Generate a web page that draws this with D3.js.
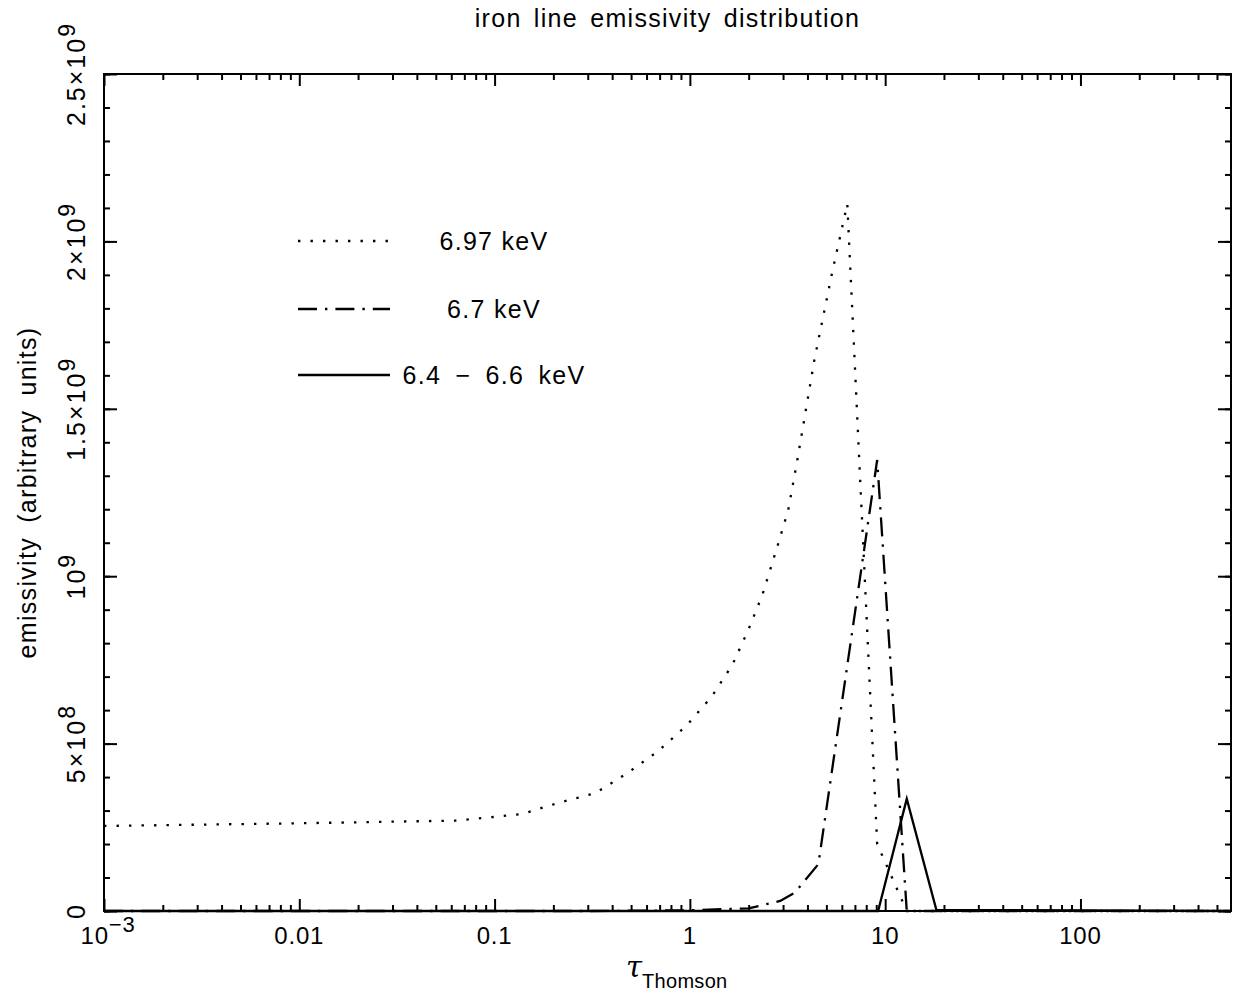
<!DOCTYPE html>
<html>
<head>
<meta charset="utf-8">
<script src="https://cdn.jsdelivr.net/npm/d3@7"></script>
<style>
  html, body { margin: 0; padding: 0; background: #fff; }
  #chart { width: 1235px; height: 995px; }
  text { font-family: "Liberation Sans", Arial, sans-serif; fill: #000; }
</style>
</head>
<body>
<div id="chart"></div>
<script>
// 6.97 keV (dotted)
const tauHe = [0.001, 0.01, 0.063, 0.1, 0.139, 0.212, 0.328, 0.479, 0.69, 0.97, 1.30, 1.65, 1.99, 2.35, 2.81, 3.19, 3.55, 4.34, 5.36, 6.4, 9.1, 12.9, 18.3, 590];
const emHe = [0.254, 0.262, 0.270, 0.281, 0.290, 0.323, 0.352, 0.412, 0.478, 0.556, 0.642, 0.735, 0.839, 0.944, 1.09, 1.198, 1.347, 1.646, 1.909, 2.112, 0.20, 0, 0, 0];
// 6.7 keV (dash-dot)
const tauH = [0.001, 0.3, 1.0, 2.0, 2.9, 3.45, 4.55, 9.1, 12.9, 590];
const emH = [0, 0, 0.002, 0.008, 0.03, 0.055, 0.14, 1.347, 0, 0];
// 6.4 - 6.6 keV (solid)
const tauN = [0.001, 9.2, 12.9, 18.3, 590];
const emN = [0, 0, 0.335, 0.003, 0];

const xDecades = [0.001, 0.01, 0.1, 1, 10, 100];
const xLabels = [['10', '\u22123'], ['0.01'], ['0.1'], ['1'], ['10'], ['100']];
const yMajor = [0, 0.5e9, 1e9, 1.5e9, 2e9, 2.5e9];
const yLabels = [['0'], ['5\u00d710', '8'], ['10', '9'], ['1.5\u00d710', '9'], ['2\u00d710', '9'], ['2.5\u00d710', '9']];
const legendNames = ['6.97 keV', '6.7 keV', '6.4 \u2212 6.6 keV'];

const width = 1235, height = 995;
const margin = { top: 74, right: 4, bottom: 84, left: 104 };
const innerW = width - margin.left - margin.right;
const innerH = height - margin.top - margin.bottom;

const svg = d3.select('#chart').append('svg')
  .attr('width', width)
  .attr('height', height);

const mg = svg.append('g')
  .attr('transform', `translate(${margin.left},${margin.top})`);

const x = d3.scaleLog().domain([0.001, 590]).range([0, innerW]);
const y = d3.scaleLinear().domain([0, 2.5e9]).range([innerH, 0]);

// 刻度 (ticks inward on all four sides)
const minorX = x.ticks().filter(d => !xDecades.includes(d));
const minorY = d3.range(0, 2.5e9 + 1, 1e8);

function tickAxis(axisFn, scale, values, size, transform) {
  const g = mg.append('g')
    .attr('transform', transform)
    .call(axisFn(scale).tickValues(values).tickSize(size).tickFormat(''));
  g.select('.domain').remove();
  g.selectAll('line').attr('stroke', '#000').attr('stroke-width', 2);
}
tickAxis(d3.axisBottom, x, minorX, -6, `translate(0,${innerH})`);
tickAxis(d3.axisBottom, x, xDecades, -12, `translate(0,${innerH})`);
tickAxis(d3.axisTop, x, minorX, -6, 'translate(0,0)');
tickAxis(d3.axisTop, x, xDecades, -12, 'translate(0,0)');
tickAxis(d3.axisLeft, y, minorY, -6, 'translate(0,0)');
tickAxis(d3.axisLeft, y, yMajor, -13, 'translate(0,0)');
tickAxis(d3.axisRight, y, minorY, -6, `translate(${innerW},0)`);
tickAxis(d3.axisRight, y, yMajor, -13, `translate(${innerW},0)`);

mg.append('rect')
  .attr('width', innerW)
  .attr('height', innerH)
  .attr('fill', 'none')
  .attr('stroke', '#000')
  .attr('stroke-width', 2);

// x tick labels
xDecades.forEach((d, i) => {
  const t = mg.append('text')
    .attr('x', x(d) + (xLabels[i][1] ? 4 : 0))
    .attr('y', innerH + 33)
    .attr('text-anchor', 'middle')
    .attr('font-size', 24)
    .attr('letter-spacing', 0.8);
  t.append('tspan').text(xLabels[i][0]);
  if (xLabels[i][1]) {
    t.append('tspan').attr('dy', -12).attr('font-size', 22).text(xLabels[i][1]);
  }
});

// y tick labels (rotated)
yMajor.forEach((d, i) => {
  const t = mg.append('text')
    .attr('transform', `translate(${85 - margin.left},${y(d)}) rotate(-90)`)
    .attr('text-anchor', 'middle')
    .attr('font-size', 25)
    .attr('letter-spacing', 2);
  t.append('tspan').text(yLabels[i][0]);
  if (yLabels[i][1]) {
    t.append('tspan').attr('dy', -10).attr('font-size', 23).text(yLabels[i][1]);
  }
});

// titles
svg.append('text')
  .attr('x', margin.left + innerW / 2)
  .attr('y', 27)
  .attr('text-anchor', 'middle')
  .attr('font-size', 25)
  .attr('letter-spacing', 1.3)
  .attr('word-spacing', 4)
  .text('iron line emissivity distribution');

svg.append('text')
  .attr('transform', `translate(36,${margin.top + innerH / 2}) rotate(-90)`)
  .attr('text-anchor', 'middle')
  .attr('font-size', 25)
  .attr('letter-spacing', 1.3)
  .attr('word-spacing', 6)
  .text('emissivity (arbitrary units)');

const xt = svg.append('text')
  .attr('x', 626)
  .attr('y', 977)
  .attr('font-size', 20);
xt.append('tspan').attr('font-family', '"DejaVu Serif", serif').attr('font-style', 'italic').attr('font-size', 29).text('\u03c4');
xt.append('tspan').attr('dy', 11).attr('font-size', 20).attr('letter-spacing', 0.3).text('Thomson');

// curves
const line = d3.line()
  .x(d => x(d[0]))
  .y(d => y(d[1] * 1e9));

const series = [
  { tau: tauHe, em: emHe, dash: '2.4,10.1' },
  { tau: tauH, em: emH, dash: '19,8,2.4,8' },
  { tau: tauN, em: emN, dash: null }
];

const plot = mg.append('g');
series.forEach(s => {
  plot.append('path')
    .datum(s.tau.map((t, i) => [t, s.em[i]]))
    .attr('d', line)
    .attr('fill', 'none')
    .attr('stroke', '#000')
    .attr('stroke-width', 2.3)
    .attr('stroke-dasharray', s.dash);
});

// 图例
const legendY = [241, 309, 375];
series.forEach((s, i) => {
  svg.append('line')
    .attr('x1', 298).attr('x2', 390)
    .attr('y1', legendY[i]).attr('y2', legendY[i])
    .attr('stroke', '#000')
    .attr('stroke-width', 2.3)
    .attr('stroke-dasharray', s.dash);
  svg.append('text')
    .attr('x', 494)
    .attr('y', legendY[i] + 9)
    .attr('text-anchor', 'middle')
    .attr('font-size', 25)
    .attr('letter-spacing', 1.3)
    .attr('word-spacing', i === 2 ? 6 : 0)
    .text(legendNames[i]);
});
</script>
</body>
</html>
